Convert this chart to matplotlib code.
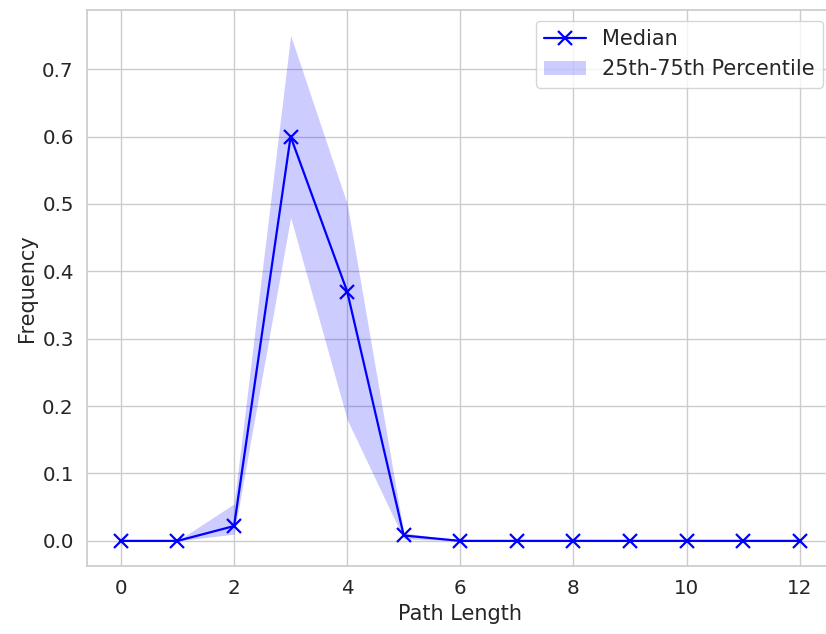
import numpy as np
import matplotlib
matplotlib.use("Agg")
import matplotlib.pyplot as plt
import seaborn as sns

path_length = np.arange(0, 13)
median = [0, 0, 0.022, 0.60, 0.37, 0.008, 0, 0, 0, 0, 0, 0, 0]
p25 = [0, 0, 0.010, 0.48, 0.18, 0.003, 0, 0, 0, 0, 0, 0, 0]
p75 = [0, 0, 0.055, 0.75, 0.50, 0.012, 0, 0, 0, 0, 0, 0, 0]

sns.set_theme(style="whitegrid", font_scale=1.3)

fig = plt.figure(figsize=(8.26, 6.34), dpi=100)
ax = fig.add_axes([0.1053, 0.107, 0.904, 0.877])
ax.plot(path_length, median, color="blue", marker="x", markersize=10,
        markeredgewidth=1.6, linewidth=1.6, label="Median")
ax.fill_between(path_length, p25, p75, color="blue", alpha=0.2, linewidth=0,
                label="25th-75th Percentile")
ax.set_xlabel("Path Length", fontsize=15)
ax.set_ylabel("Frequency", fontsize=15)
ax.legend(loc="upper right", fontsize=15)
fig.savefig("out.png")
